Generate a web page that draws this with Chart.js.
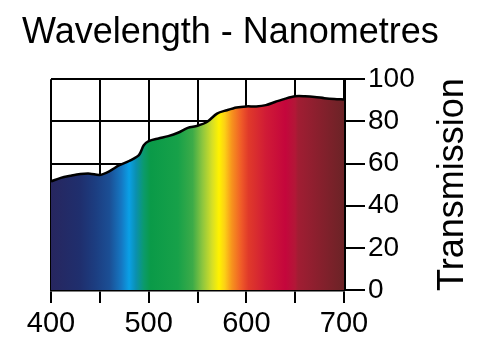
<!DOCTYPE html>
<html>
<head>
<meta charset="utf-8">
<script src="https://cdn.jsdelivr.net/npm/chart.js@4"></script>
<style>
  html, body { margin: 0; padding: 0; background: #fff; }
  #wrap { width: 500px; height: 352px; }
</style>
</head>
<body>
<div id="wrap"><canvas id="myChart" width="500" height="352"></canvas></div>
<script>
const wavelengths = [400, 410, 420, 430, 440, 450, 460, 470, 480, 490, 495, 500, 510, 520, 530, 540,
                     550, 560, 570, 580, 590, 600, 610, 620, 630, 640, 650, 660, 670, 680, 690, 700];
const transmission = [51.5, 53.2, 54.2, 55, 55.2, 54.6, 56.4, 59.2, 61.2, 64, 68.7, 70.6, 71.9, 73, 74.6, 76.9,
                      77.9, 79.8, 83.7, 85.3, 86.6, 87.1, 87.1, 87.7, 89.3, 90.8, 91.9, 91.9, 91.6, 91, 90.6, 90.4];
const xTicks = [400, 500, 600, 700];
const yTicks = [0, 20, 40, 60, 80, 100];

// spectrum colours along the wavelength axis
const spectrumNm = [400, 430, 445, 460, 472, 480, 487, 495, 502, 530, 545, 555, 565, 572, 578, 585, 595, 602, 620, 640, 650, 653, 700];
const spectrumColors = ['#27265f', '#1f2f6e', '#1c3d80', '#1b4f95', '#1577c2', '#0aa0e6', '#0a90b0', '#0b9a6c',
                        '#0a9a48', '#17a149', '#3cab48', '#8cc63f', '#d6df26', '#fff200', '#fccf16', '#f7941d',
                        '#ef5a28', '#e03a2a', '#d01b36', '#c4063c', '#b31737', '#a11d33', '#6b2326'];

const FONT = "'Liberation Sans', Arial, Helvetica, sans-serif";

function spectrumFill(context) {
  const chart = context.chart;
  const area = chart.chartArea;
  if (!area) return 'rgba(0,0,0,0)';
  const xs = chart.scales.x;
  const x0 = xs.getPixelForValue(400);
  const x1 = xs.getPixelForValue(700);
  const g = chart.ctx.createLinearGradient(x0, 0, x1, 0);
  spectrumNm.forEach((nm, i) => {
    g.addColorStop((nm - 400) / 300, spectrumColors[i]);
  });
  return g;
}

const yTitle = {
  id: 'yTitle',
  afterDraw(chart) {
    const c = chart.ctx;
    const area = chart.chartArea;
    c.save();
    c.font = '36px ' + FONT;
    c.fillStyle = '#000';
    c.textAlign = 'center';
    c.textBaseline = 'alphabetic';
    c.translate(463, (area.top + area.bottom) / 2);
    c.rotate(-Math.PI / 2);
    c.fillText('Transmission', 0, 0);
    c.restore();
  }
};

const ctx = document.getElementById('myChart');
new Chart(ctx, {
  type: 'line',
  data: {
    datasets: [{
      data: wavelengths.map((w, i) => ({ x: w, y: transmission[i] })),
      borderColor: '#000',
      borderWidth: 2.5,
      pointRadius: 0,
      tension: 0.3,
      fill: 'origin',
      backgroundColor: spectrumFill
    }]
  },
  options: {
    responsive: false,
    animation: false,
    layout: { padding: { left: 22, right: 0, top: 0, bottom: 0 } },
    plugins: {
      legend: { display: false },
      tooltip: { enabled: false },
      title: {
        display: true,
        text: 'Wavelength - Nanometres',
        align: 'start',
        color: '#000',
        font: { family: FONT, size: 36, weight: 'normal' },
        padding: { top: 11, bottom: 25 }
      }
    },
    scales: {
      x: {
        type: 'linear',
        min: 400,
        max: 700,
        z: 1,
        afterBuildTicks: s => {
          s.ticks = [];
          for (let v = 400; v <= 700; v += 50) s.ticks.push({ value: v });
        },
        afterFit: s => { s.height = 62; s.paddingLeft = 51; s.paddingRight = 10; },
        ticks: {
          color: '#000',
          font: { family: FONT, size: 29 },
          padding: 4,
          maxRotation: 0,
          autoSkip: false,
          callback: v => xTicks.includes(v) ? String(v) : ''
        },
        grid: { color: '#000', lineWidth: 2, tickLength: 13, drawTicks: true },
        border: { display: true, color: '#000', width: 2.5 }
      },
      y: {
        position: 'right',
        min: 0,
        max: 100,
        z: 1,
        afterBuildTicks: s => { s.ticks = yTicks.map(v => ({ value: v })); },
        afterFit: s => { s.width = 156; },
        ticks: {
          color: '#000',
          font: { family: FONT, size: 28 },
          padding: 3
        },
        grid: { color: '#000', lineWidth: 2, tickLength: 21 },
        border: { display: true, color: '#000', width: 3 }
      }
    }
  },
  plugins: [yTitle]
});
</script>
</body>
</html>
